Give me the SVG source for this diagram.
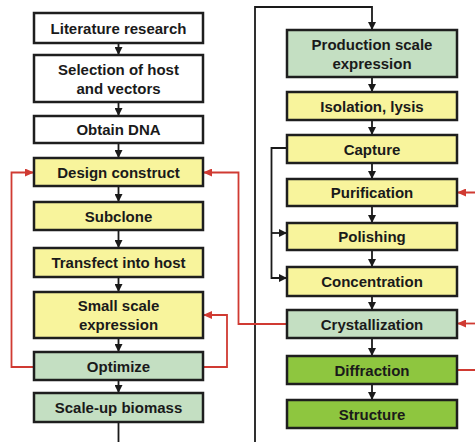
<svg xmlns="http://www.w3.org/2000/svg" width="475" height="442" viewBox="0 0 475 442">
<defs>
<marker id="ab" markerWidth="8" markerHeight="8" refX="7" refY="4" orient="auto" markerUnits="userSpaceOnUse"><path d="M0,0 L8,4 L0,8 Z" fill="#1a1a1a"/></marker>
<marker id="ar" markerWidth="9" markerHeight="8" refX="8" refY="4" orient="auto" markerUnits="userSpaceOnUse"><path d="M0,0 L9,4 L0,8 Z" fill="#d03a32"/></marker>
</defs>
<style>
.b{stroke:#1e1e1e;stroke-width:2.5}
.w{fill:#ffffff}.y{fill:#f8f49c}.g{fill:#c4dfc2}.d{fill:#8ec63f}
text{font-family:"Liberation Sans",Arial,sans-serif;font-weight:bold;font-size:15px;fill:#1a1a1a;text-anchor:middle}
.k{stroke:#1a1a1a;stroke-width:1.8;fill:none}
.r{stroke:#d03a32;stroke-width:1.8;fill:none}
</style>
<rect width="475" height="442" fill="#ffffff"/>
<g id="connectors">
<line class="k" x1="118.5" y1="43" x2="118.5" y2="54" marker-end="url(#ab)"/>
<line class="k" x1="118.5" y1="102" x2="118.5" y2="115" marker-end="url(#ab)"/>
<line class="k" x1="118.5" y1="143" x2="118.5" y2="157" marker-end="url(#ab)"/>
<line class="k" x1="118.5" y1="186" x2="118.5" y2="201" marker-end="url(#ab)"/>
<line class="k" x1="118.5" y1="230" x2="118.5" y2="247" marker-end="url(#ab)"/>
<line class="k" x1="118.5" y1="277" x2="118.5" y2="291" marker-end="url(#ab)"/>
<line class="k" x1="118.5" y1="338" x2="118.5" y2="351" marker-end="url(#ab)"/>
<line class="k" x1="118.5" y1="380" x2="118.5" y2="392" marker-end="url(#ab)"/>
<polyline class="k" points="118.5,422 118.5,445 255,445 255,7 372,7 372,29" marker-end="url(#ab)"/>
<line class="k" x1="372" y1="77" x2="372" y2="91" marker-end="url(#ab)"/>
<line class="k" x1="372" y1="120" x2="372" y2="134" marker-end="url(#ab)"/>
<line class="k" x1="372" y1="163" x2="372" y2="178" marker-end="url(#ab)"/>
<line class="k" x1="372" y1="206" x2="372" y2="222" marker-end="url(#ab)"/>
<line class="k" x1="372" y1="250" x2="372" y2="266" marker-end="url(#ab)"/>
<line class="k" x1="372" y1="296" x2="372" y2="309" marker-end="url(#ab)"/>
<line class="k" x1="372" y1="338" x2="372" y2="355" marker-end="url(#ab)"/>
<line class="k" x1="372" y1="384" x2="372" y2="399" marker-end="url(#ab)"/>
<polyline class="k" points="287,148 271.5,148 271.5,278 286,278" marker-end="url(#ab)"/>
<line class="k" x1="271.5" y1="233" x2="286" y2="233" marker-end="url(#ab)"/>
<polyline class="r" points="34,367 11.5,367 11.5,172.5 33,172.5" marker-end="url(#ar)"/>
<polyline class="r" points="203,367 227,367 227,315 204,315" marker-end="url(#ar)"/>
<polyline class="r" points="287,324 238.5,324 238.5,172.5 204,172.5" marker-end="url(#ar)"/>
<polyline class="r" points="457,370 478,370 478,192.5 458,192.5" marker-end="url(#ar)"/>
<line class="r" x1="478" y1="323.5" x2="458" y2="323.5" marker-end="url(#ar)"/>
</g>
<g id="n1"><rect class="b w" x="34" y="13" width="169" height="30"/><text x="118.5" y="33.5">Literature research</text></g>
<g id="n2"><rect class="b w" x="34" y="55" width="169" height="47"/><text x="118.5" y="75">Selection of host</text><text x="118.5" y="93.5">and vectors</text></g>
<g id="n3"><rect class="b w" x="34" y="116" width="169" height="27"/><text x="118.5" y="135">Obtain DNA</text></g>
<g id="n4"><rect class="b y" x="34" y="158" width="169" height="28"/><text x="118.5" y="177.5">Design construct</text></g>
<g id="n5"><rect class="b y" x="34" y="202" width="169" height="28"/><text x="118.5" y="221.5">Subclone</text></g>
<g id="n6"><rect class="b y" x="34" y="248" width="169" height="29"/><text x="118.5" y="267.5">Transfect into host</text></g>
<g id="n7"><rect class="b y" x="34" y="292" width="169" height="46"/><text x="118.5" y="311">Small scale</text><text x="118.5" y="329.5">expression</text></g>
<g id="n8"><rect class="b g" x="34" y="352" width="169" height="28"/><text x="118.5" y="371.5">Optimize</text></g>
<g id="n9"><rect class="b g" x="34" y="393" width="169" height="29"/><text x="118.5" y="412.5">Scale-up biomass</text></g>
<g id="m1"><rect class="b g" x="287" y="30" width="170" height="47"/><text x="372" y="50">Production scale</text><text x="372" y="68.5">expression</text></g>
<g id="m2"><rect class="b y" x="287" y="92" width="170" height="28"/><text x="372" y="111.5">Isolation, lysis</text></g>
<g id="m3"><rect class="b y" x="287" y="135" width="170" height="28"/><text x="372" y="154.5">Capture</text></g>
<g id="m4"><rect class="b y" x="287" y="179" width="170" height="27"/><text x="372" y="198">Purification</text></g>
<g id="m5"><rect class="b y" x="287" y="223" width="170" height="27"/><text x="372" y="242">Polishing</text></g>
<g id="m6"><rect class="b y" x="287" y="267" width="170" height="29"/><text x="372" y="287">Concentration</text></g>
<g id="m7"><rect class="b g" x="287" y="310" width="170" height="28"/><text x="372" y="329.5">Crystallization</text></g>
<g id="m8"><rect class="b d" x="287" y="356" width="170" height="28"/><text x="372" y="375.5">Diffraction</text></g>
<g id="m9"><rect class="b d" x="287" y="400" width="170" height="28"/><text x="372" y="419.5">Structure</text></g>
</svg>
